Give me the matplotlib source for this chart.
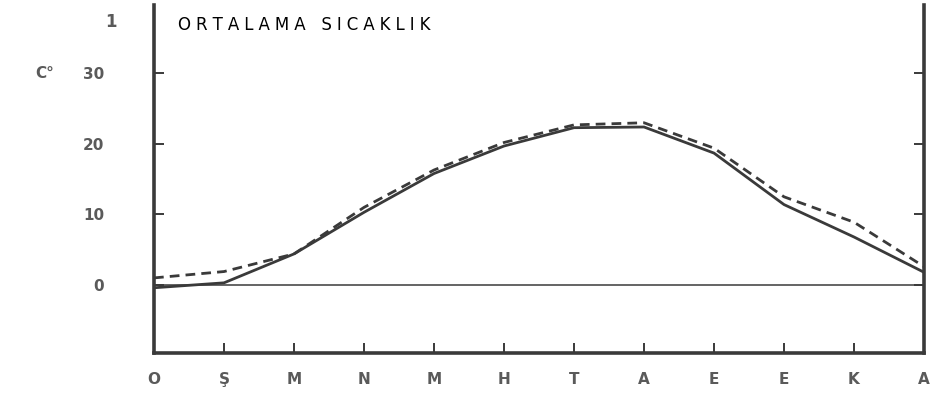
"""Ortalama sıcaklık — aylık ortalama sıcaklık eğrileri (iki istasyon)."""

import matplotlib

matplotlib.use("Agg")
import matplotlib.pyplot as plt

months = ["O", "Ş", "M", "N", "M", "H", "T", "A", "E", "E", "K", "A"]
temp_solid = [-0.4, 0.3, 4.4, 10.3, 15.8, 19.7, 22.3, 22.4, 18.7, 11.4, 6.8, 1.8]
temp_dashed = [1.0, 1.9, 4.4, 11.0, 16.3, 20.2, 22.7, 23.0, 19.4, 12.5, 8.9, 2.6]
y_ticks = [0, 10, 20, 30]
title = "ORTALAMA SICAKLIK"

INK = "#3a3a3a"
LABEL = "#5a5a5a"


def spaced(text, gap="\u2009\u200a"):
    # widen the letter spacing, keep a wider gap between words
    return "   ".join(gap.join(word) for word in text.split(" "))


fig = plt.figure(figsize=(9.36, 3.98), dpi=100)
ax = fig.add_axes([154 / 936, 45 / 398, 770 / 936, 348 / 398])

x = list(range(len(months)))
ax.plot(x, temp_solid, color=INK, linewidth=2.0)
ax.plot(x, temp_dashed, color=INK, linewidth=2.0, linestyle=(0, (3.5, 2.2)))
ax.axhline(0, color=INK, linewidth=1.1)

ax.set_xlim(0, 11)
ax.set_ylim(-9.65, 39.7)

ax.spines["top"].set_visible(False)
for side in ("left", "right", "bottom"):
    ax.spines[side].set_color(INK)
    ax.spines[side].set_linewidth(2.6)

ax.set_xticks(x)
ax.set_xticklabels(months)
ax.set_yticks(y_ticks)
ax.set_yticklabels([str(v) for v in y_ticks])
ax.tick_params(axis="x", direction="in", length=7, width=1.4, color=INK,
               pad=14, labelsize=11, labelcolor=LABEL)
ax.tick_params(axis="y", direction="in", length=7, width=1.4, color=INK,
               pad=36, labelsize=11, labelcolor=LABEL, right=True)
for lbl in ax.get_xticklabels() + ax.get_yticklabels():
    lbl.set_fontweight("bold")

fig.text(117 / 936, 1 - 22 / 398, "1", fontsize=12, fontweight="bold",
         color=LABEL, ha="right", va="center")
fig.text(35 / 936, 1 - 73 / 398, "C°", fontsize=11, fontweight="bold",
         color=LABEL, ha="left", va="center")
fig.text(178 / 936, 1 - 25 / 398, spaced(title),
         fontsize=12, color="black", ha="left", va="center")

fig.savefig("out.png", dpi=100)
plt.close(fig)
